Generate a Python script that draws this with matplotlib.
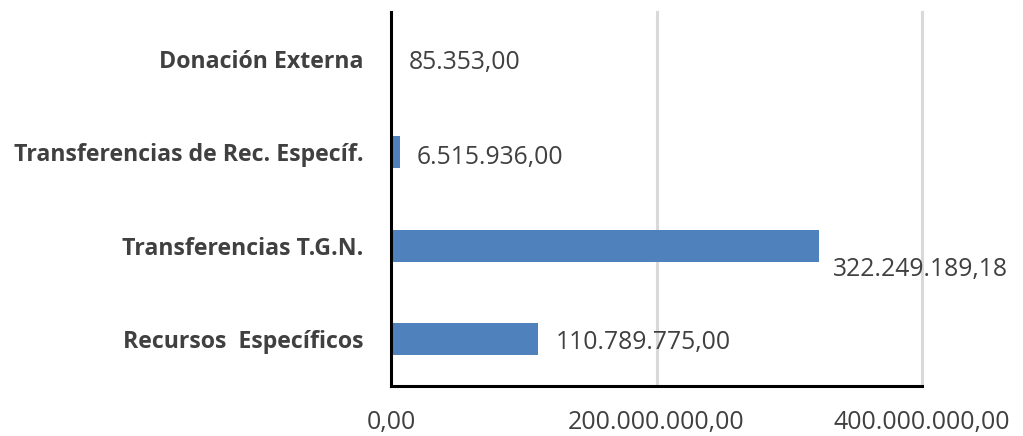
import matplotlib
matplotlib.use("Agg")
import matplotlib.pyplot as plt
from matplotlib.ticker import FuncFormatter

categories = ["Recursos  Específicos", "Transferencias T.G.N.",
              "Transferencias de Rec. Específ.", "Donación Externa"]
values = [110789775.00, 322249189.18, 6515936.00, 85353.00]
xticks = [0, 200000000, 400000000]


def es_format(v, decimals=2):
    s = f"{v:,.{decimals}f}"
    return s.replace(",", "X").replace(".", ",").replace("X", ".")


plt.rcParams["font.family"] = ["Open Sans", "DejaVu Sans"]
text_color = "#404040"
bar_color = "#4F81BD"

fig = plt.figure(figsize=(10.23, 4.36), dpi=100)
ax = fig.add_axes([391 / 1023, 1 - 386 / 436, (922 - 391) / 1023, (386 - 12) / 436])

ypos = list(range(len(categories)))
ax.barh(ypos, values, height=0.34, color=bar_color, zorder=3)

ax.set_xlim(0, 400000000)
ax.set_ylim(-0.5, len(categories) - 0.5)
ax.set_xticks(xticks)
ax.xaxis.set_major_formatter(FuncFormatter(lambda v, p: es_format(v)))
ax.set_yticks(ypos)
ax.set_yticklabels(categories, fontweight="bold")
ax.tick_params(axis="y", length=0, pad=20, labelsize=16.7, labelcolor=text_color)
ax.tick_params(axis="x", length=0, pad=17, labelsize=18, labelcolor=text_color)

for xv in xticks[1:]:
    ax.axvline(xv, color="#D9D9D9", linewidth=2.2, zorder=0, clip_on=False)
for side in ("top", "right"):
    ax.spines[side].set_visible(False)
ax.spines["left"].set_color("black")
ax.spines["left"].set_linewidth(2.2)
ax.spines["left"].set_zorder(4)
ax.spines["bottom"].set_color("black")
ax.spines["bottom"].set_linewidth(2.2)

# value labels next to each bar end (the longest one sits just below its bar)
offsets = {0: (18, -3), 1: (14, -24), 2: (17, -5), 3: (18, -4)}
for i, v in enumerate(values):
    dx, dy = offsets[i]
    ax.annotate(es_format(v), xy=(v, i), xytext=(dx, dy), textcoords="offset pixels",
                ha="left", va="center", fontsize=17.8, color=text_color, zorder=5)

fig.savefig("out.png", dpi=100, facecolor="white")
